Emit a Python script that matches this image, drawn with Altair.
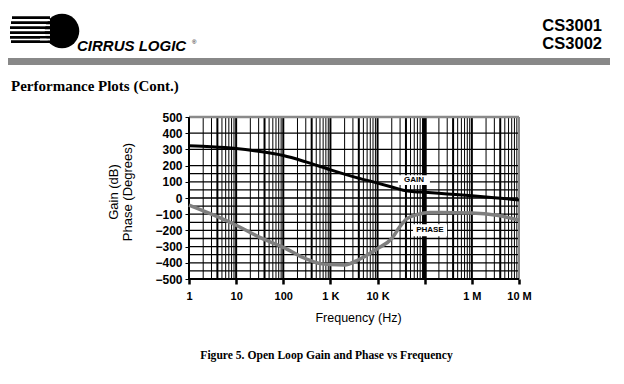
import altair as alt
import pandas as pd

# ---- data ----
gain_freq = [1, 3, 10, 30, 100, 300, 1000, 3000, 10000, 20000, 35000, 60000, 100000, 300000, 1e6, 3e6, 1e7]
gain_db = [322, 317, 306, 288, 262, 223, 174, 132, 92, 68, 48, 39, 35, 25, 14, 2, -12]

phase_freq = [1, 3, 10, 30, 100, 300, 600, 1000, 2000, 4000, 10000, 20000, 30000, 42000, 70000, 130000, 1e6, 3.4e6, 1e7]
phase_deg = [-44, -100, -168, -240, -305, -375, -405, -411, -413, -380, -312, -250, -175, -127, -102, -90, -92, -106, -137]

x_ticks = [1, 10, 100, 1000, 10000, 100000, 1000000, 10000000]
x_tick_labels = ["1", "10", "100", "1 K", "10 K", "", "1 M", "10 M"]
y_ticks = list(range(-500, 501, 100))

v_grid_freq = [m * 10 ** d for d in range(7) for m in range(1, 10)] + [1e7]
v_grid_weight = [(4 if f == 100000 else (2 if str(int(f))[0] in "14" else 1)) for f in v_grid_freq]
h_grid_vals = [400, 300, 200, 150, 100, 50, 0, -50, -100, -150, -200, -250, -300, -350, -400, -450]

labels_text = ["GAIN", "PHASE"]
labels_freq = [59000, 129000]
labels_val = [110, -199]
labels_box_f1 = [27000, 56500]
labels_box_f2 = [129000, 297000]
labels_box_v1 = [141, -162]
labels_box_v2 = [80, -236]

# ---- tables ----
gain_df = pd.DataFrame({"f": gain_freq, "v": gain_db})
phase_df = pd.DataFrame({"f": phase_freq, "v": phase_deg})
vgrid_df = pd.DataFrame({"f": v_grid_freq, "w": v_grid_weight})
hgrid_df = pd.DataFrame({"v": h_grid_vals})
lab_df = pd.DataFrame({"t": labels_text, "f": labels_freq, "v": labels_val,
                       "f1": labels_box_f1, "f2": labels_box_f2,
                       "v1": labels_box_v1, "v2": labels_box_v2})
top_df = pd.DataFrame({"v": [500]})
bottom_df = pd.DataFrame({"v": [-500]})
left_df = pd.DataFrame({"f": [1]})
right_df = pd.DataFrame({"f": [1e7]})
one = pd.DataFrame({"a": [1]})

SANS = "Liberation Sans"
SERIF = "Liberation Serif"

xs = alt.Scale(type="log", domain=[1, 1e7], nice=False)
ys = alt.Scale(domain=[-500, 500], nice=False)

label_expr = "{" + ",".join(f"'{t}':'{l}'" for t, l in zip(x_ticks, x_tick_labels)) + "}[datum.value]"

XAX = alt.Axis(values=x_ticks, labelExpr=label_expr, grid=False, domain=False,
               tickColor="black", tickWidth=2.5, tickSize=5, labelPadding=6,
               labelFont=SANS, labelFontSize=11, labelFontWeight="bold",
               labelColor="black", labelFlush=False, labelOverlap=False, title=None)
YAX = alt.Axis(values=y_ticks, grid=False, domain=False, tickColor="black",
               tickWidth=1, tickSize=4, labelPadding=3, labelFont=SANS,
               labelFontSize=12, labelFontWeight="bold", labelColor="black", title=None)


def X(field):
    return alt.X(field, scale=xs, axis=XAX, title=None)


def Y(field):
    return alt.Y(field, scale=ys, axis=YAX, title=None)


vgrid = alt.Chart(vgrid_df).mark_rule(color="black").encode(
    x=X("f:Q"), strokeWidth=alt.StrokeWidth("w:Q", scale=None),
)
hgrid = alt.Chart(hgrid_df).mark_rule(color="black", strokeWidth=1.3).encode(y=Y("v:Q"))
top_line = alt.Chart(top_df).mark_rule(color="#8a8a8a", strokeWidth=2.5).encode(y=Y("v:Q"))
bottom_line = alt.Chart(bottom_df).mark_rule(color="black", strokeWidth=2).encode(y=Y("v:Q"))
left_line = alt.Chart(left_df).mark_rule(color="black", strokeWidth=1.5).encode(x=X("f:Q"))
right_line = alt.Chart(right_df).mark_rule(color="#8a8a8a", strokeWidth=2).encode(x=X("f:Q"))

boxes = alt.Chart(lab_df).mark_rect(color="white").encode(
    x=X("f1:Q"), x2="f2:Q", y=Y("v1:Q"), y2="v2:Q",
)
box_text = alt.Chart(lab_df).mark_text(font=SANS, fontSize=8, fontWeight="bold", color="black").encode(
    x=X("f:Q"), y=Y("v:Q"), text="t:N"
)

gain = alt.Chart(gain_df).mark_line(color="black", strokeWidth=3, interpolate="monotone").encode(
    x=X("f:Q"), y=Y("v:Q")
)
phase = alt.Chart(phase_df).mark_line(color="#7f7f7f", strokeWidth=3.5, interpolate="monotone").encode(
    x=X("f:Q"), y=Y("v:Q")
)


def txt(s, x, y, **kw):
    return alt.Chart(one).mark_text(**kw).encode(x=alt.value(x), y=alt.value(y), text=alt.value(s))


def bar(x1, x2, y1, y2, color):
    return alt.Chart(one).mark_rect(color=color).encode(
        x=alt.value(x1), x2=alt.value(x2), y=alt.value(y1), y2=alt.value(y2))


def hrule(x1, x2, y, w, color="black"):
    return alt.Chart(one).mark_rule(color=color, strokeWidth=w).encode(
        x=alt.value(x1), x2=alt.value(x2), y=alt.value(y))


# chart coords: page x - 189, page y - 117
decor = [
    txt("Gain (dB)", -75, 75, font=SANS, fontSize=13, angle=270, align="center", baseline="middle", color="black"),
    txt("Phase (Degrees)", -61, 75, font=SANS, fontSize=13, angle=270, align="center", baseline="middle", color="black"),
    txt("Frequency (Hz)", 169.5, 205, font=SANS, fontSize=12.5, align="center", baseline="alphabetic", color="black"),
    txt("Figure 5.  Open Loop Gain and Phase vs Frequency", 137.5, 242, font=SERIF, fontSize=11.6,
        fontWeight="bold", align="center", baseline="alphabetic", color="black"),
    txt("Performance Plots (Cont.)", -178, -26, font=SERIF, fontSize=15, fontWeight="bold",
        align="left", baseline="alphabetic", color="black"),
    txt("CS3001", 413, -86, font=SANS, fontSize=16.5, fontWeight="bold", align="right",
        baseline="alphabetic", color="black"),
    txt("CS3002", 413, -68.5, font=SANS, fontSize=16.5, fontWeight="bold", align="right",
        baseline="alphabetic", color="black"),
    bar(-181, 421, -59, -52, "#888888"),
]

# logo (ball with motion stripes)
logo = [
    alt.Chart(one).mark_point(shape="circle", filled=True, color="black", opacity=1, size=1195).encode(
        x=alt.value(62 - 189), y=alt.value(31 - 117)),
]
for py, x1, x2 in [(17.7, 12, 50), (22.7, 11, 50), (27.7, 10, 50), (32.7, 10, 52), (37.3, 10, 56), (41.7, 11, 66)]:
    logo.append(hrule(x1 - 189, x2 - 189, py - 117, 2.8))
for py in [20.2, 25.2, 30.2, 35.0, 39.5]:
    logo.append(hrule(40 - 189, 50 - 189, py - 117, 1.8, "white"))
logo += [
    txt("CIRRUS LOGIC", 77 - 189, 51 - 117, font=SANS, fontSize=15, fontWeight="bold", fontStyle="italic",
        align="left", baseline="alphabetic", color="white", stroke="white", strokeWidth=4),
    txt("CIRRUS LOGIC", 77 - 189, 51 - 117, font=SANS, fontSize=15, fontWeight="bold", fontStyle="italic",
        align="left", baseline="alphabetic", color="black"),
    txt("®", 192 - 189, 44 - 117, font=SANS, fontSize=6, align="left", baseline="alphabetic", color="black"),
]

chart = alt.layer(
    vgrid, hgrid, top_line, right_line, left_line, bottom_line,
    phase, gain, boxes, box_text, *decor, *logo
).properties(
    width=330, height=162,
    padding={"left": 181, "top": 109, "right": 97, "bottom": 97},
    autosize=alt.AutoSizeParams(type="none"),
    background="white",
).configure_view(stroke=None)

chart.save("out.html", embed_options={"renderer": "svg", "actions": False})
